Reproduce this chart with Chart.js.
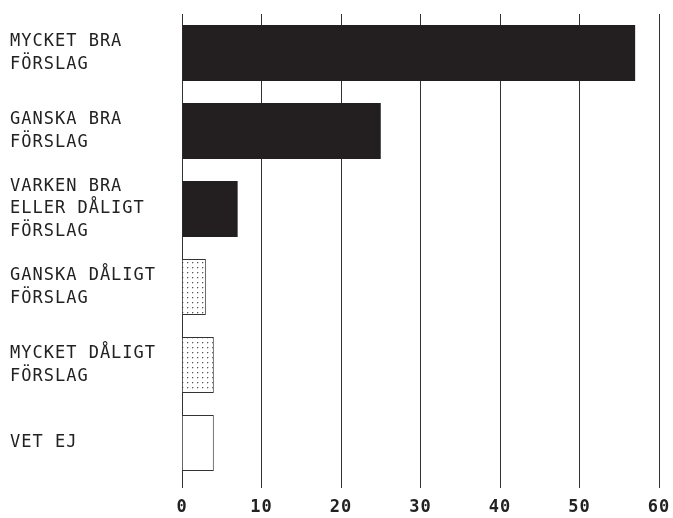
<!DOCTYPE html>
<html><head><meta charset="utf-8">
<script src="https://cdn.jsdelivr.net/npm/chart.js@4"></script>
<style>html,body{margin:0;padding:0;background:#fff;overflow:hidden}#w{width:673px;height:518px}</style>
</head><body><div id="w"><canvas id="c"></canvas></div>
<script>
const categories = [
  ["MYCKET BRA","FÖRSLAG"],
  ["GANSKA BRA","FÖRSLAG"],
  ["VARKEN BRA","ELLER DÅLIGT","FÖRSLAG"],
  ["GANSKA DÅLIGT","FÖRSLAG"],
  ["MYCKET DÅLIGT","FÖRSLAG"],
  ["VET EJ"]
];
const values = [57, 25, 7, 3, 4, 4];
const fillKinds = ["solid","solid","solid","dots","dots","empty"];
const xTicks = [0,10,20,30,40,50,60];

function dotPattern(){
  const p = document.createElement('canvas'); p.width = 5; p.height = 5;
  const g = p.getContext('2d');
  g.fillStyle = '#fff'; g.fillRect(0,0,5,5);
  g.fillStyle = '#555'; g.fillRect(2,2,1,1);
  g.fillStyle = '#ccc'; g.fillRect(3,2,1,1); g.fillRect(2,3,1,1);
  return g.createPattern(p,'repeat');
}
const pat = dotPattern();
const bg = fillKinds.map(k => k==='solid' ? '#231f20' : k==='dots' ? pat : '#ffffff');
const bd = fillKinds.map(k => k==='solid' ? '#231f20' : '#333333');

const spacing = { id: 'spacing',
  beforeInit(c){ c.ctx.letterSpacing = '1px'; },
  beforeUpdate(c){ c.ctx.letterSpacing = '1px'; },
  beforeDraw(c){ c.ctx.letterSpacing = '1px'; }
};

new Chart(document.getElementById('c'), {
  type: 'bar',
  plugins: [spacing],
  data: { labels: categories, datasets: [{ data: values, backgroundColor: bg, borderColor: bd, borderWidth: fillKinds.map(k=>k==='solid'?0:1), barPercentage: 0.72, categoryPercentage: 1 }] },
  options: {
    indexAxis: 'y', responsive: true, maintainAspectRatio: false, animation: false,
    layout: { autoPadding: false, padding: { top: 14, left: 10, right: 14, bottom: 0 } },
    plugins: { legend: { display: false }, tooltip: { enabled: false } },
    scales: {
      x: {
        min: 0, max: 60,
        afterBuildTicks: ax => { ax.ticks = xTicks.map(v => ({ value: v })); },
        afterFit: ax => { ax.height = 36; ax.paddingLeft = 0; ax.paddingRight = 0; },
        border: { display: false },
        grid: { color: '#333', lineWidth: 1, drawTicks: true, tickLength: 6 },
        ticks: { color: '#222', padding: 9, font: { family: 'DejaVu Sans Mono', size: 17, weight: 'bold' } }
      },
      y: {
        border: { display: false },
        grid: { display: false },
        afterFit: ax => { ax.width = 172; },
        ticks: { crossAlign: 'far', color: '#222', padding: 0, font: { family: 'DejaVu Sans Mono', size: 17, lineHeight: 1.33 } }
      }
    }
  }
});
</script></body></html>
